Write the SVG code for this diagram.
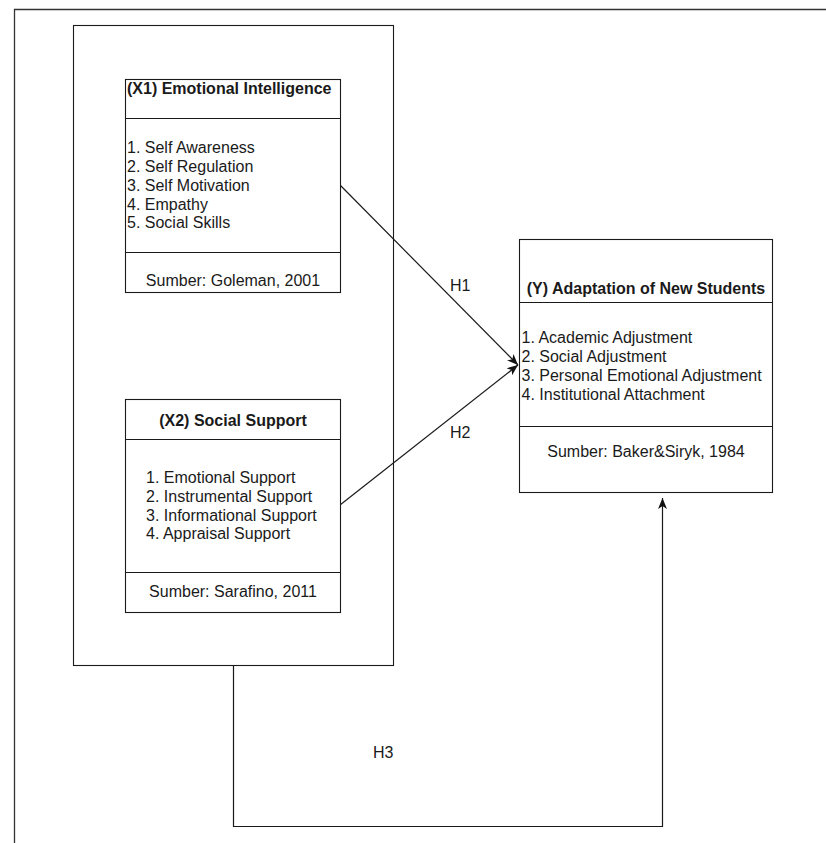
<svg xmlns="http://www.w3.org/2000/svg" width="826" height="843" viewBox="0 0 826 843">
<style>
  .box { fill: #ffffff; stroke: #1a1a1a; stroke-width: 1.1; }
  .sep { stroke: #1a1a1a; stroke-width: 1.1; fill: none; }
  .frame { stroke: #333333; stroke-width: 1.3; fill: none; }
  .conn { stroke: #1a1a1a; stroke-width: 1.2; fill: none; }
  text { font-family: "Liberation Sans", Arial, sans-serif; font-size: 16px; fill: #1a1a1a; }
  .title { font-weight: bold; }
  .mid { text-anchor: middle; }
</style>
<defs>
  <marker id="arrow" markerUnits="userSpaceOnUse" markerWidth="12" markerHeight="10" refX="11" refY="5" orient="auto">
    <path d="M0,0.5 L11,5 L0,9.5 L3,5 Z" fill="#111111" stroke="none"/>
  </marker>
</defs>
<rect x="0" y="0" width="826" height="843" fill="#ffffff"/>
<path class="frame" d="M14.5,843 V9.5 H826"/>

<g id="group-x">
  <rect class="box" x="73.5" y="25.5" width="320" height="640"/>
</g>

<g id="connectors">
  <path class="conn" d="M340,185 L518,365" marker-end="url(#arrow)"/>
  <path class="conn" d="M340,505 L518,365" marker-end="url(#arrow)"/>
  <path class="conn" d="M233.5,666 V826.5 H662.5 V498" marker-end="url(#arrow)"/>
  <text x="450" y="291">H1</text>
  <text x="450" y="438">H2</text>
  <text x="373" y="758">H3</text>
</g>

<g id="x1">
  <rect class="box" x="125.5" y="79.5" width="215" height="213"/>
  <line class="sep" x1="125.5" y1="118.5" x2="340.5" y2="118.5"/>
  <line class="sep" x1="125.5" y1="252.5" x2="340.5" y2="252.5"/>
  <text class="title" x="127" y="94">(X1) Emotional Intelligence</text>
  <text x="127" y="153.3">1. Self Awareness</text>
  <text x="127" y="172">2. Self Regulation</text>
  <text x="127" y="190.8">3. Self Motivation</text>
  <text x="127" y="209.5">4. Empathy</text>
  <text x="127" y="228.3">5. Social Skills</text>
  <text class="mid" x="233" y="286">Sumber: Goleman, 2001</text>
</g>

<g id="x2">
  <rect class="box" x="125.5" y="399.5" width="215" height="213"/>
  <line class="sep" x1="125.5" y1="439.5" x2="340.5" y2="439.5"/>
  <line class="sep" x1="125.5" y1="572.5" x2="340.5" y2="572.5"/>
  <text class="title mid" x="233" y="426">(X2) Social Support</text>
  <text x="146" y="482.7">1. Emotional Support</text>
  <text x="146" y="501.6">2. Instrumental Support</text>
  <text x="146" y="520.5">3. Informational Support</text>
  <text x="146" y="539.3">4. Appraisal Support</text>
  <text class="mid" x="233" y="597.3">Sumber: Sarafino, 2011</text>
</g>

<g id="y">
  <rect class="box" x="519.5" y="239.5" width="253" height="253"/>
  <line class="sep" x1="519.5" y1="302.5" x2="772.5" y2="302.5"/>
  <line class="sep" x1="519.5" y1="426.5" x2="772.5" y2="426.5"/>
  <text class="title mid" x="646" y="294">(Y) Adaptation of New Students</text>
  <text x="521.5" y="342.7">1. Academic Adjustment</text>
  <text x="521.5" y="361.8">2. Social Adjustment</text>
  <text x="521.5" y="380.9">3. Personal Emotional Adjustment</text>
  <text x="521.5" y="400">4. Institutional Attachment</text>
  <text class="mid" x="646" y="456.7">Sumber: Baker&amp;Siryk, 1984</text>
</g>
</svg>
